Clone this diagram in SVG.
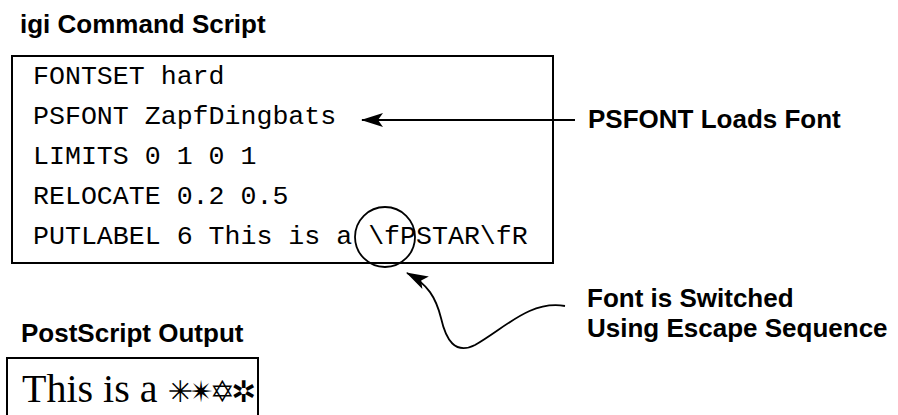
<svg xmlns="http://www.w3.org/2000/svg" width="898" height="415" viewBox="0 0 898 415">
<style>
.h{font-family:"Liberation Sans",Arial,sans-serif;font-weight:bold;font-size:26px;fill:#000}
.m{font-family:"Liberation Mono","Courier New",monospace;font-size:26.6px;fill:#000}
.box{fill:#fff;stroke:#000;stroke-width:2}
.ln{fill:none;stroke:#000;stroke-width:1.8}
</style>
<defs>
<marker id="ah" markerUnits="userSpaceOnUse" markerWidth="26" markerHeight="18" viewBox="-22 -9 24 18" refX="0" refY="0" orient="auto">
<path d="M1,0 L-21,-7 L-16,0 L-21,7 z" fill="#000"/>
</marker>
</defs>
<rect width="898" height="415" fill="#fff"/>
<g id="script">
<text class="h" x="20" y="33">igi Command Script</text>
<rect class="box" x="12" y="56" width="541" height="207"/>
<text class="m" x="33" y="84">FONTSET hard</text>
<text class="m" x="33" y="124">PSFONT ZapfDingbats</text>
<text class="m" x="33" y="164">LIMITS 0 1 0 1</text>
<text class="m" x="33" y="204">RELOCATE 0.2 0.5</text>
<text class="m" x="33" y="244">PUTLABEL 6 This is a \fPSTAR\fR</text>
<circle class="ln" cx="385" cy="237" r="30"/>
</g>
<g id="output">
<text class="h" x="21" y="342">PostScript Output</text>
<rect class="box" x="7" y="358" width="251" height="70"/>
<text x="22" y="402" style="font-family:'Liberation Serif','Times New Roman',serif;font-size:40px">This is a <tspan style="font-family:'DejaVu Sans',sans-serif;font-size:30px;letter-spacing:-4px">✳✴✡✲</tspan></text>
</g>
<g id="label-psfont">
<text class="h" x="588" y="128">PSFONT Loads Font</text>
</g>
<g id="label-switch">
<text class="h" x="587" y="307">Font is Switched</text>
<text class="h" x="587" y="337">Using Escape Sequence</text>
</g>
<g id="connectors">
<path class="ln" d="M575 120 H362" marker-end="url(#ah)"/>
<path class="ln" d="M565 306 C530 300 505 328 475 345 C455 355 446 340 441 318 C436 298 428 284 407 273" marker-end="url(#ah)"/>
</g>
</svg>
